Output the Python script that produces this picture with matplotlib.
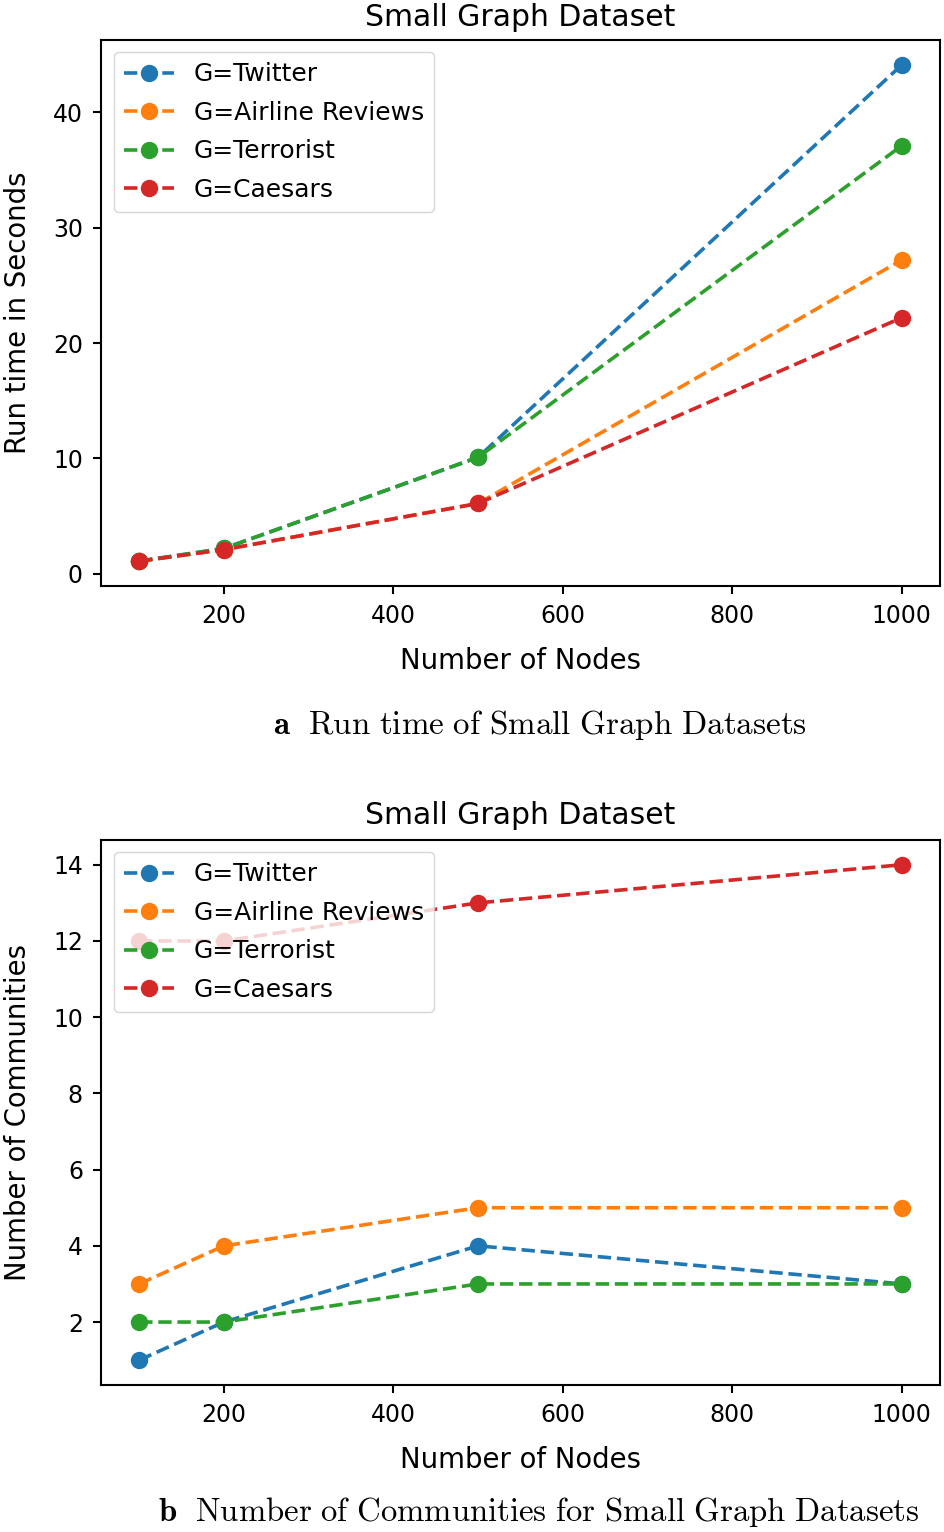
import matplotlib
matplotlib.use('Agg')
import matplotlib.pyplot as plt

plt.rcParams['mathtext.fontset'] = 'cm'

# data
nodes = [100, 200, 500, 1000]
names = ['G=Twitter', 'G=Airline Reviews', 'G=Terrorist', 'G=Caesars']
runtime_twitter = [1.1, 2.2, 10.1, 44.1]
runtime_airline = [1.1, 2.1, 6.1, 27.2]
runtime_terrorist = [1.1, 2.2, 10.1, 37.1]
runtime_caesars = [1.1, 2.1, 6.1, 22.2]
comm_twitter = [1, 2, 4, 3]
comm_airline = [3, 4, 5, 5]
comm_terrorist = [2, 2, 3, 3]
comm_caesars = [12, 12, 13, 14]

runtimes = [runtime_twitter, runtime_airline, runtime_terrorist, runtime_caesars]
comms = [comm_twitter, comm_airline, comm_terrorist, comm_caesars]

fs_tick = 17
fs_legend = 18
fs_label = 19.8
fs_title = 21.5

fig = plt.figure(figsize=(9.45, 15.32), dpi=100)
ax1 = fig.add_axes([0.1069, 0.6175, 0.8878, 0.3564])
ax2 = fig.add_axes([0.1069, 0.0960, 0.8878, 0.3557])

#Top: run time
for name, vals in zip(names, runtimes):
    ax1.plot(nodes, vals, '--o', label=name, linewidth=2.6, markersize=11.5)
ax1.set_yticks([0, 10, 20, 30, 40])
ax1.set_ylabel('Run time in Seconds', fontsize=fs_label, labelpad=15)
ax1.set_title('Small Graph Dataset', fontsize=fs_title, pad=10)

#Bottom: communities
for name, vals in zip(names, comms):
    ax2.plot(nodes, vals, '--o', label=name, linewidth=2.6, markersize=11.5)
ax2.set_yticks([2, 4, 6, 8, 10, 12, 14])
ax2.set_ylabel('Number of Communities', fontsize=fs_label, labelpad=15)
ax2.set_title('Small Graph Dataset', fontsize=fs_title, pad=11.5)

for ax in (ax1, ax2):
    ax.set_xlabel('Number of Nodes', fontsize=fs_label, labelpad=14)
    ax.set_xticks([200, 400, 600, 800, 1000])
    ax.tick_params(labelsize=fs_tick, width=1.5, length=6, pad=7)
    for s in ax.spines.values():
        s.set_linewidth(1.5)
    ax.legend(loc='upper left', fontsize=fs_legend, labelspacing=0.58)

fig.text(0.571, 0.527, r'$\mathbf{a}\ \ \mathrm{Run\ time\ of\ Small\ Graph\ Datasets}$',
         ha='center', va='center', fontsize=23.8)
fig.text(0.570, 0.013, r'$\mathbf{b}\ \ \mathrm{Number\ of\ Communities\ for\ Small\ Graph\ Datasets}$',
         ha='center', va='center', fontsize=23.6)

fig.savefig('out.png', dpi=100)
